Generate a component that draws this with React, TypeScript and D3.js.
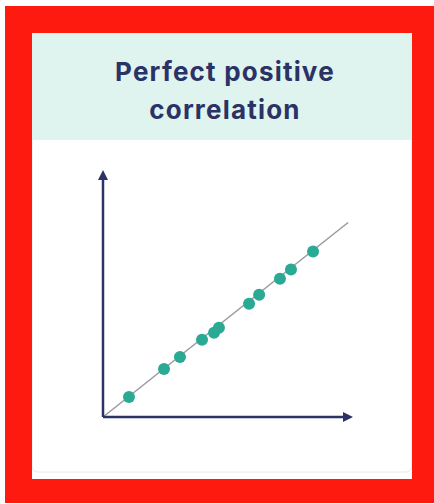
import React from "react";
import * as d3 from "d3";

// readings (same units on both axes)
const xValues = [1.06, 2.49, 3.14, 4.04, 4.53, 4.73, 5.96, 6.37, 7.22, 7.67, 8.57];
const yValues = [1.03, 2.47, 3.09, 3.97, 4.33, 4.59, 5.82, 6.29, 7.11, 7.58, 8.51];
const titleLines = ["Perfect positive", "correlation"];
const trendLine = [0, 10];

const W = 434;
const H = 504;
const navy = "#2b3266";
const teal = "#2aa994";

export default function App() {
  const x = d3.scaleLinear().domain([0, 10.2]).range([103, 353]);
  const y = d3.scaleLinear().domain([0, 12.7]).range([417, 170]);
  const [x0, x1] = x.range();
  const [y0, y1] = y.range();

  const line = d3
    .line<number>()
    .x((d) => x(d))
    .y((d) => y(d));

  const points = xValues.map((v, i) => ({ x: v, y: yValues[i] }));

  return (
    <svg
      width={W}
      height={H}
      style={{ position: "fixed", left: 0, top: 0, background: "#fff" }}
      fontFamily="Inter, 'Noto Sans', sans-serif"
    >
      {/* card */}
      <rect x={32} y={30} width={380} height={442} rx={6} fill="#fff" stroke="#e6e8ea" />
      <rect x={32} y={33} width={380} height={107} fill="#dff3ef" />
      {titleLines.map((t, i) => (
        <text
          key={t}
          x={225}
          y={81 + i * 38}
          textAnchor="middle"
          fontSize={26}
          fontWeight={700}
          fill={navy}
          letterSpacing={1.2}
        >
          {t}
        </text>
      ))}

      {/* trend line */}
      <path d={line(trendLine) ?? ""} stroke="#9a9a9e" strokeWidth={1.5} fill="none" />

      {/* axes */}
      <line x1={x0} y1={y0} x2={x0} y2={y1 + 6} stroke={navy} strokeWidth={2.5} />
      <line x1={x0} y1={y0} x2={x1 - 6} y2={y0} stroke={navy} strokeWidth={2.5} />
      <path d={`M${x0},${y1} L${x0 - 5},${y1 + 10} L${x0 + 5},${y1 + 10} Z`} fill={navy} />
      <path d={`M${x1},${y0} L${x1 - 10},${y0 - 5} L${x1 - 10},${y0 + 5} Z`} fill={navy} />

      {points.map((p, i) => (
        <circle key={i} cx={x(p.x)} cy={y(p.y)} r={6} fill={teal} />
      ))}

      {/* red frame */}
      <g fill="#ff1a10">
        <rect x={5} y={6} width={429} height={27} />
        <rect x={5} y={6} width={27} height={497} />
        <rect x={412} y={6} width={22} height={497} />
        <rect x={5} y={479} width={429} height={24} />
      </g>
    </svg>
  );
}
